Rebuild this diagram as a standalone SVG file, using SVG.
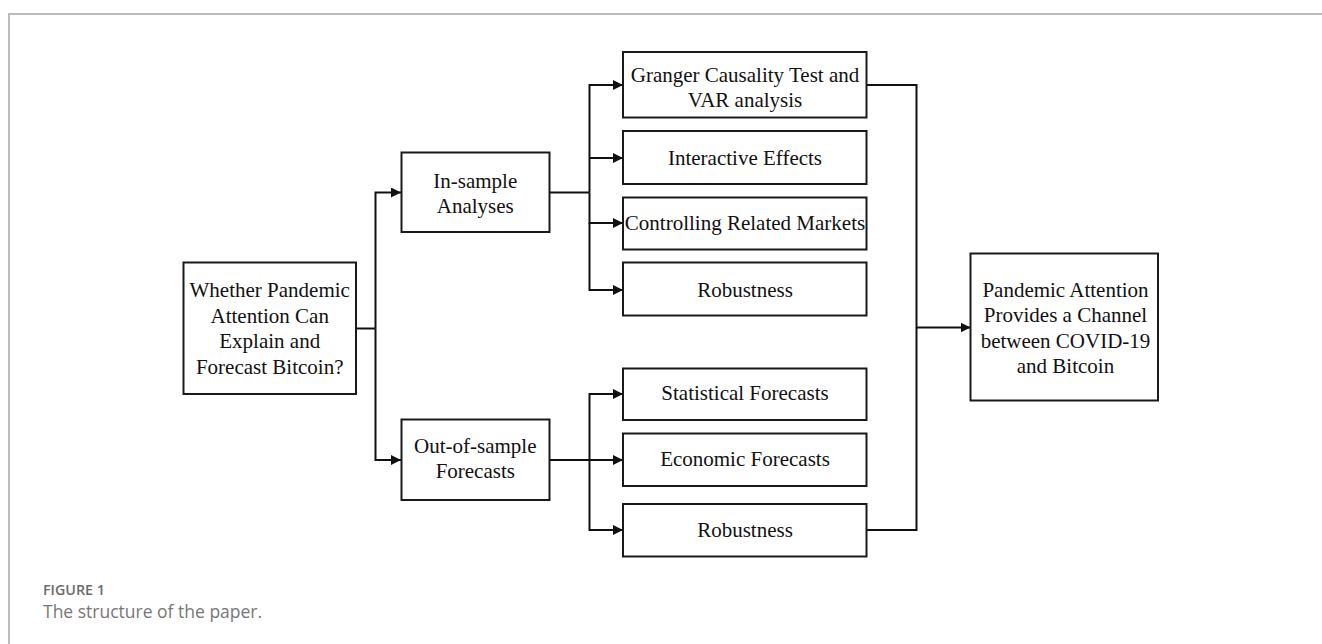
<svg xmlns="http://www.w3.org/2000/svg" width="1322" height="644" viewBox="0 0 1322 644">
<style>
.box{fill:#fff;stroke:#1a1a1a;stroke-width:2}
.t{font-family:"Liberation Serif","Times New Roman",serif;font-size:21px;fill:#111;text-anchor:middle}
.c{fill:none;stroke:#111;stroke-width:2}
.frame{fill:none;stroke:#bbb;stroke-width:2}
.cap1{font-family:"Open Sans","Noto Sans",sans-serif;font-size:14.3px;font-weight:600;fill:#6b6b6b}
.cap2{font-family:"Open Sans","Noto Sans",sans-serif;font-size:17.5px;fill:#777}
</style>
<defs>
<marker id="ah" markerUnits="userSpaceOnUse" markerWidth="12" markerHeight="12" refX="10" refY="5" orient="auto">
<path d="M0,0 L10,5 L0,10 Z" fill="#111"/>
</marker>
</defs>
<path class="frame" d="M9,644 V14 H1322"/>
<g id="connectors">
<path class="c" d="M356,328.5 H375.5"/>
<path class="c" d="M375.5,328.5 V192.5 H401" marker-end="url(#ah)"/>
<path class="c" d="M375.5,328.5 V460 H401" marker-end="url(#ah)"/>
<path class="c" d="M549,192.5 H589.5"/>
<path class="c" d="M589.5,192.5 V85 H623" marker-end="url(#ah)"/>
<path class="c" d="M589.5,158 H623" marker-end="url(#ah)"/>
<path class="c" d="M589.5,192.5 V223 H623" marker-end="url(#ah)"/>
<path class="c" d="M589.5,223 V290 H623" marker-end="url(#ah)"/>
<path class="c" d="M549,460 H623" marker-end="url(#ah)"/>
<path class="c" d="M589.5,460 V394 H623" marker-end="url(#ah)"/>
<path class="c" d="M589.5,460 V530 H623" marker-end="url(#ah)"/>
<path class="c" d="M867,85 H916.5 V530 H867"/>
<path class="c" d="M916.5,327.5 H970.5" marker-end="url(#ah)"/>
</g>
<g id="n-question">
<rect class="box" x="183.5" y="262.5" width="172.5" height="131.5"/>
<text class="t" x="269.7" y="296.7">Whether Pandemic</text>
<text class="t" x="269.7" y="322.5">Attention Can</text>
<text class="t" x="269.7" y="348.3">Explain and</text>
<text class="t" x="269.7" y="373.5">Forecast Bitcoin?</text>
</g>
<g id="n-insample">
<rect class="box" x="401.5" y="152.5" width="148" height="79.5"/>
<text class="t" x="475.3" y="188.3">In-sample</text>
<text class="t" x="475.3" y="213.3">Analyses</text>
</g>
<g id="n-outsample">
<rect class="box" x="401.5" y="419.5" width="148" height="80.5"/>
<text class="t" x="475.3" y="453.3">Out-of-sample</text>
<text class="t" x="475.3" y="478.3">Forecasts</text>
</g>
<g id="n-granger">
<rect class="box" x="623" y="52" width="243.5" height="65.5"/>
<text class="t" x="745" y="81.7">Granger Causality Test and</text>
<text class="t" x="745" y="106.7">VAR analysis</text>
</g>
<g id="n-interactive">
<rect class="box" x="623" y="131" width="243.5" height="53"/>
<text class="t" x="745" y="165">Interactive Effects</text>
</g>
<g id="n-controlling">
<rect class="box" x="623" y="197.5" width="243.5" height="52"/>
<text class="t" x="745" y="230">Controlling Related Markets</text>
</g>
<g id="n-robust1">
<rect class="box" x="623" y="262.5" width="243.5" height="53"/>
<text class="t" x="745" y="296.7">Robustness</text>
</g>
<g id="n-statistical">
<rect class="box" x="623" y="368.5" width="243.5" height="51.5"/>
<text class="t" x="745" y="400">Statistical Forecasts</text>
</g>
<g id="n-economic">
<rect class="box" x="623" y="433.5" width="243.5" height="52.5"/>
<text class="t" x="745" y="465.7">Economic Forecasts</text>
</g>
<g id="n-robust2">
<rect class="box" x="623" y="504" width="243.5" height="52.5"/>
<text class="t" x="745" y="536.7">Robustness</text>
</g>
<g id="n-result">
<rect class="box" x="970.5" y="253.5" width="187.5" height="147"/>
<text class="t" x="1065.5" y="296.7">Pandemic Attention</text>
<text class="t" x="1065.5" y="322.3">Provides a Channel</text>
<text class="t" x="1065.5" y="347.5">between COVID-19</text>
<text class="t" x="1065.5" y="372.7">and Bitcoin</text>
</g>
<text class="cap1" x="43" y="595">FIGURE 1</text>
<text class="cap2" x="43" y="617.5">The structure of the paper.</text>
</svg>
